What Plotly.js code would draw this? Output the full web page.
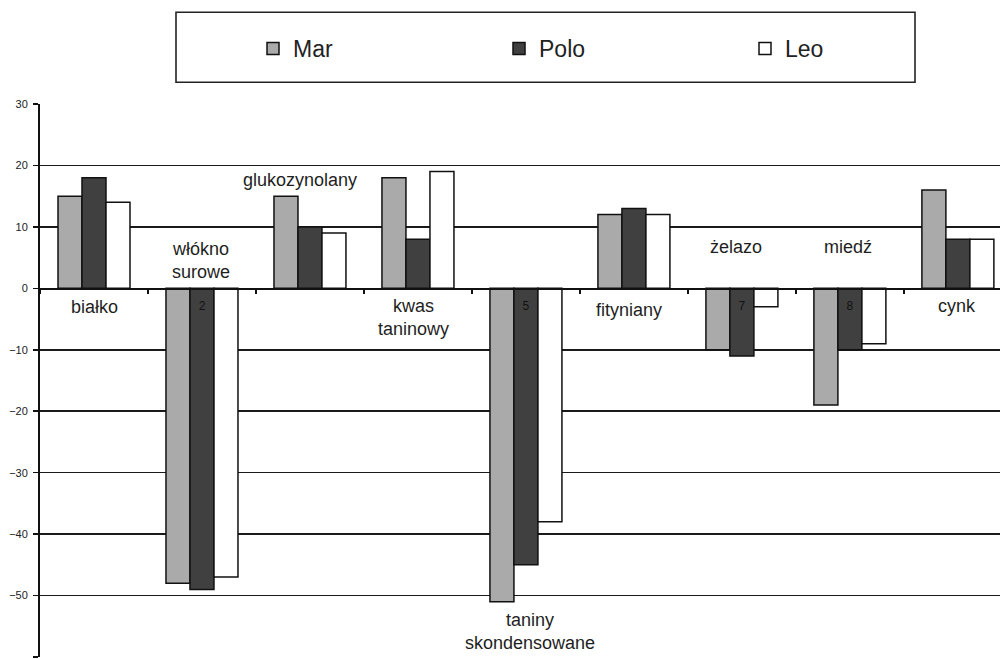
<!DOCTYPE html>
<html>
<head>
<meta charset="utf-8">
<script src="https://cdn.plot.ly/plotly-3.0.1.min.js"></script>
<style>
  html, body { margin: 0; padding: 0; background: #fff; }
  #chart { width: 1000px; height: 659px; }
</style>
</head>
<body>
<div id="chart"></div>
<script>
// Category numbers along the axis and the nutrient each one stands for
const categories = ['1', '2', '3', '4', '5', '6', '7', '8', '9'];
const categoryNames = [
  'białko', 'włókno<br>surowe', 'glukozynolany', 'kwas<br>taninowy',
  'taniny<br>skondensowane', 'fityniany', 'żelazo', 'miedź', 'cynk'
];
// Only some category numbers are left visible on the zero line
const tickLabels = ['', '2', '', '', '5', '', '7', '8', ''];

// Percentage change per variety
const marValues  = [15, -48, 15, 18, -51, 12, -10, -19, 16];
const poloValues = [18, -49, 10,  8, -45, 13, -11, -10,  8];
const leoValues  = [14, -47,  9, 19, -38, 12,  -3,  -9,  8];

const seriesNames = ['Mar', 'Polo', 'Leo'];
const seriesValues = [marValues, poloValues, leoValues];
const seriesColors = ['#aaaaaa', '#404040', '#ffffff'];

// Where each category name sits: vertical value and a small horizontal nudge (px)
const nameY      = [-3.0, 4.45, 17.6, -4.7, -55.8, -3.6, 6.7, 6.7, -2.9];
const nameShiftX = [1, -1, -10, -4, 4, -5, -6, -2, -1];

const traces = seriesNames.map((name, k) => ({
  type: 'bar',
  name: name,
  x: categories,
  y: seriesValues[k],
  marker: { color: seriesColors[k], line: { color: '#111', width: 1.5 } },
  hoverinfo: 'skip'
}));

// category names are placed by category index along the x axis
const annotations = categories.map((c, i) => ({
  xref: 'x', yref: 'y',
  x: i, y: nameY[i],
  xshift: nameShiftX[i],
  text: categoryNames[i],
  showarrow: false,
  xanchor: 'center', yanchor: 'middle',
  align: 'center',
  font: { family: 'Liberation Sans, Arial, sans-serif', size: 18, color: '#1e1e1e' }
}));

const layout = {
  width: 1000,
  height: 659,
  margin: { l: 40, r: 0, t: 103.5, b: 2, pad: 0 },
  paper_bgcolor: '#fff',
  plot_bgcolor: '#fff',
  barmode: 'group',
  bargap: 1 / 3,
  bargroupgap: 0,
  showlegend: true,
  legend: {
    orientation: 'h',
    xref: 'container', yref: 'container',
    x: 0.253, y: 0.9265,
    xanchor: 'left', yanchor: 'middle',
    entrywidth: 201, entrywidthmode: 'pixels',
    itemwidth: 30,
    borderwidth: 0,
    bgcolor: 'rgba(0,0,0,0)',
    font: { family: 'Liberation Sans, Arial, sans-serif', size: 23, color: '#222' }
  },
  shapes: [{
    type: 'rect', xref: 'paper', yref: 'paper', layer: 'below',
    // legend frame above the plotting area
    x0: (176 - 40) / 960, x1: (915 - 40) / 960,
    y0: 1 + (103.5 - 81.7) / 553.5, y1: 1 + (103.5 - 11.7) / 553.5,
    line: { color: '#222', width: 1.6 },
    fillcolor: 'rgba(0,0,0,0)'
  }],
  xaxis: {
    type: 'category',
    range: [-0.5, 8.39],
    anchor: 'free',
    position: 2 / 3,
    tickmode: 'array',
    tickvals: categories,
    ticktext: tickLabels,
    tickson: 'boundaries',
    ticks: 'outside',
    ticklen: 4,
    tickwidth: 1.5,
    tickcolor: '#111',
    ticklabelstandoff: 6,
    tickfont: { family: 'Liberation Sans, Arial, sans-serif', size: 12, color: '#111' },
    showline: true,
    linecolor: '#111',
    linewidth: 1.5,
    showgrid: false,
    zeroline: false,
    fixedrange: true
  },
  yaxis: {
    range: [-60, 30],
    tickmode: 'linear',
    tick0: -60,
    dtick: 10,
    ticks: 'outside',
    ticklen: 5,
    tickwidth: 1.5,
    tickcolor: '#111',
    ticklabelstandoff: 3,
    tickfont: { family: 'Liberation Sans, Arial, sans-serif', size: 11, color: '#222' },
    showline: true,
    linecolor: '#111',
    linewidth: 2,
    showgrid: true,
    gridcolor: '#1a1a1a',
    gridwidth: 1.5,
    zeroline: true,
    zerolinecolor: '#111',
    zerolinewidth: 1.5,
    fixedrange: true
  },
  annotations: annotations
};

Plotly.newPlot('chart', traces, layout, { displayModeBar: false, staticPlot: true });
</script>
</body>
</html>
